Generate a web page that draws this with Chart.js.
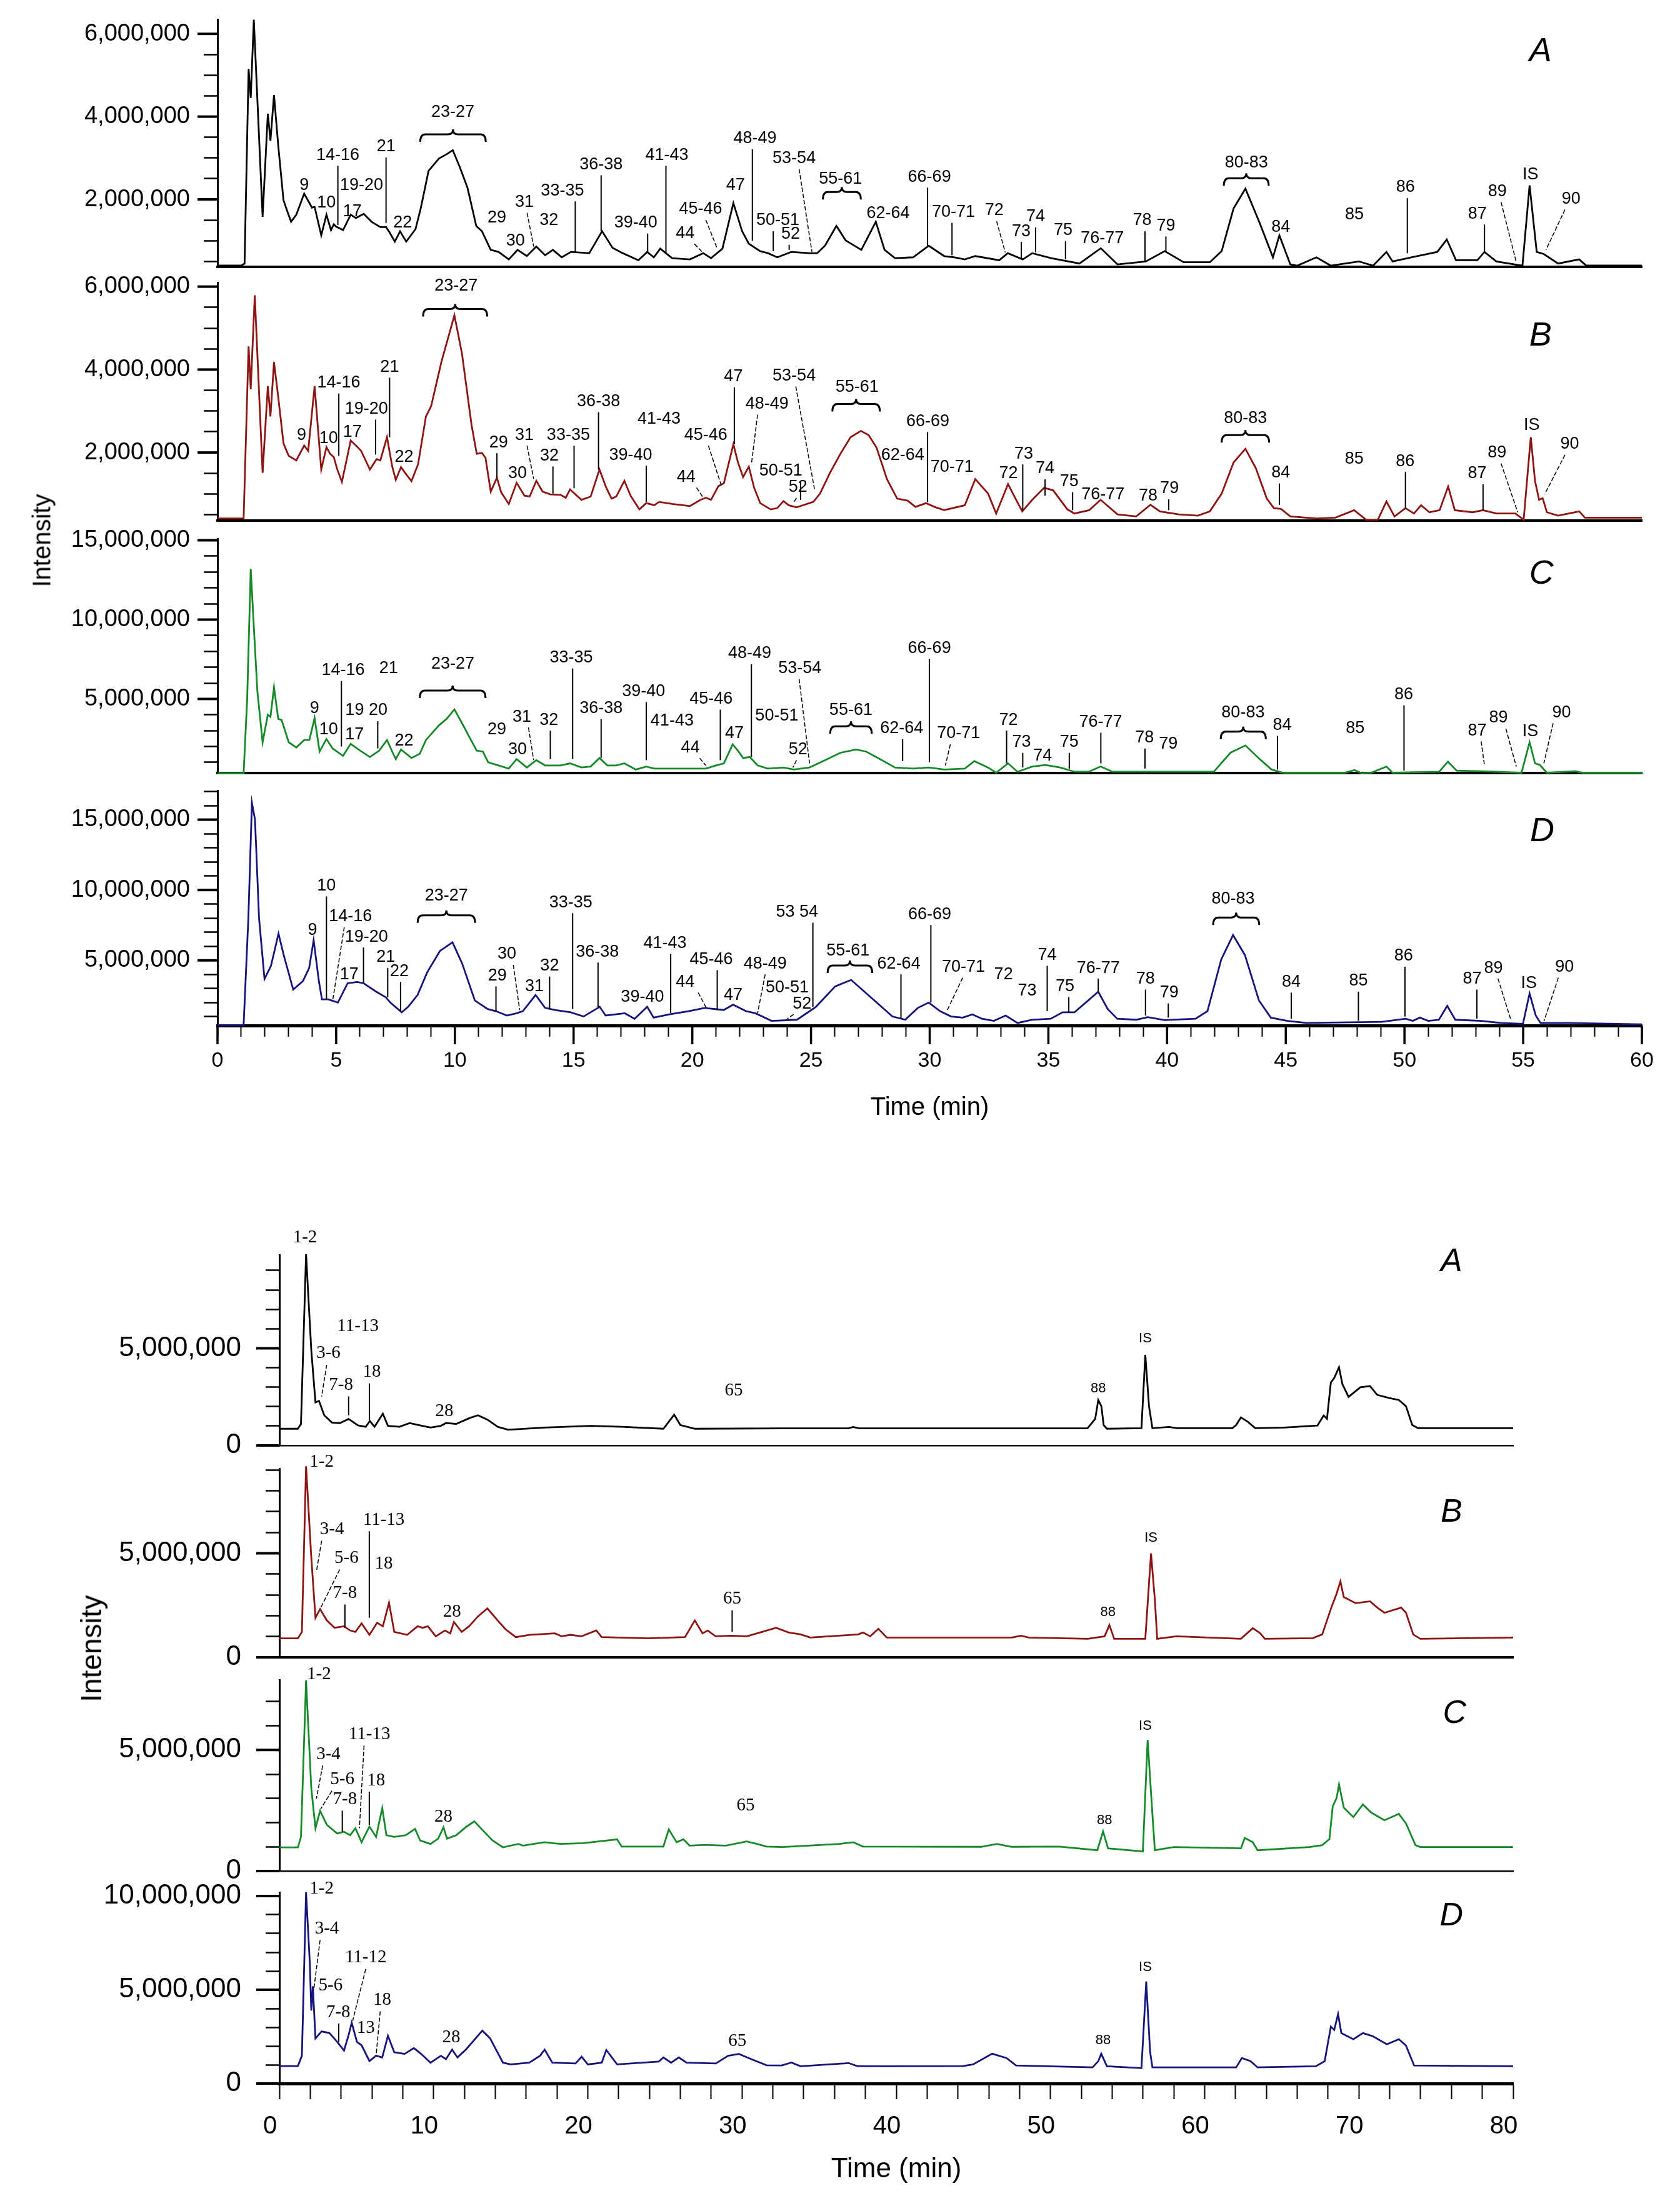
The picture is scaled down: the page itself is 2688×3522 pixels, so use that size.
<!DOCTYPE html>
<html><head><meta charset="utf-8">
<script src="https://cdn.jsdelivr.net/npm/chart.js@4.4.1/dist/chart.umd.min.js"></script>
<style>
html,body{margin:0;padding:0;background:#fff;}
body{width:2688px;height:3522px;position:relative;overflow:hidden;}
canvas{position:absolute;left:0;}
.ytitle{position:absolute;transform:translate(-50%,-50%) rotate(-90deg);font-family:"Liberation Sans",Arial,sans-serif;color:#000;white-space:nowrap;}
</style></head><body>
<canvas id="tA"></canvas><canvas id="tB"></canvas><canvas id="tC"></canvas><canvas id="tD"></canvas>
<canvas id="bA"></canvas><canvas id="bB"></canvas><canvas id="bC"></canvas><canvas id="bD"></canvas>
<div class="ytitle" style="left:67px;top:865px;font-size:40px;">Intensity</div>
<div class="ytitle" style="left:146px;top:2638px;font-size:46px;">Intensity</div>
<script>
// ---------------- DATA (times in min, intensities in millions) ----------------
const topXLabels = [0,5,10,15,20,25,30,35,40,45,50,55,60];
const bottomXLabels = [0,10,20,30,40,50,60,70,80];
const topABYLabels = [2,4,6];
const topCDYLabels = [5,10,15];
const bottomYLabels = [0,5,10];

// ---- Top figure, trace A ----
const topA_time = [0,1.0,1.14,1.31,1.40,1.53,1.90,2.12,2.23,2.38,2.56,2.78,2.93,3.10,3.32,3.65,3.98,4.09,4.37,4.59,4.78,4.90,5.00,5.29,5.61,5.83,6.16,6.49,6.86,7.10,7.25,7.47,7.69,7.95,8.34,8.56,8.89,9.33,9.65,9.91,10.2,10.53,10.9,11.14,11.51,11.84,12.27,12.64,13.03,13.43,13.8,14.13,14.5,14.89,15.66,16.2,16.64,17.07,17.73,18.1,18.38,18.65,19.15,19.9,20.46,20.79,21.27,21.73,22.1,22.38,22.86,23.19,23.58,24.17,24.94,25.26,25.59,26.07,26.46,27.12,27.73,28.1,28.54,29.3,29.96,30.61,31.05,31.48,31.92,32.93,33.29,33.92,34.32,35.12,36.31,37.21,37.91,39.1,39.9,40.7,41.8,42.3,42.8,43.3,43.9,44.46,44.73,45.19,45.49,46.29,46.89,48.08,48.68,49.24,49.5,50.28,51.38,51.78,52.17,53.07,53.37,53.87,54.97,55.27,55.57,55.87,56.47,57.36,57.66,60];
const topA_int = [0.40,0.40,0.45,5.15,4.45,6.34,1.58,4.07,3.42,4.52,3.29,1.98,1.73,1.46,1.63,2.14,1.80,1.82,1.13,1.63,1.26,1.40,1.34,1.26,1.63,1.55,1.65,1.46,1.33,1.33,1.20,0.98,1.23,0.98,1.28,1.78,2.69,2.99,3.09,3.19,2.79,2.28,1.36,1.23,0.78,0.73,0.55,0.78,0.63,0.86,0.65,0.78,0.60,0.73,0.70,1.23,0.83,0.70,0.53,0.73,0.60,0.81,0.58,0.55,0.70,0.58,0.81,1.91,1.23,0.93,0.75,0.70,0.60,0.73,0.70,0.70,0.88,1.36,1.01,0.78,1.46,0.78,0.58,0.60,0.88,0.63,0.60,0.55,0.63,0.53,0.70,0.55,0.70,0.58,0.45,0.82,0.43,0.50,0.75,0.48,0.48,0.75,1.78,2.26,1.43,0.60,1.13,0.43,0.40,0.60,0.40,0.50,0.40,0.73,0.50,0.60,0.73,1.03,0.53,0.53,0.73,0.50,0.40,2.34,0.73,0.68,0.45,0.55,0.40,0.40];

// ---- Top figure, trace B ----
const topB_time = [0,1.1,1.31,1.40,1.57,1.90,2.12,2.23,2.38,2.56,2.78,3.0,3.32,3.65,3.82,4.09,4.37,4.59,4.74,4.9,5.03,5.24,5.61,5.83,6.05,6.42,6.7,6.86,7.14,7.36,7.51,7.73,7.9,8.17,8.45,8.78,9.0,9.43,9.98,10.3,10.7,10.92,11.14,11.29,11.51,11.77,11.95,12.27,12.6,12.93,13.15,13.43,13.69,14.02,14.45,14.67,14.85,15.33,15.72,16.09,16.37,16.6,16.8,17.14,17.4,17.77,18.06,18.4,18.6,19.15,19.6,19.9,20.35,20.57,20.79,21.1,21.33,21.5,21.73,21.92,22.14,22.38,22.6,22.86,23.3,23.58,23.84,24.06,24.39,25.1,25.38,25.8,26.24,26.67,27.1,27.43,27.76,28.2,28.63,29.07,29.4,29.85,30.2,30.61,31.48,31.92,32.46,32.8,33.3,33.55,33.9,34.32,34.82,35.2,35.8,36.1,36.72,37.2,37.91,38.7,39.3,39.7,40.5,41.3,41.8,42.3,42.8,43.3,43.74,44.2,44.5,44.8,45.19,46.29,47.09,47.88,48.38,48.88,49.24,49.58,50.04,50.4,50.7,51.05,51.48,51.84,52.12,52.87,53.31,53.87,54.67,55.02,55.32,55.5,55.67,55.82,56.0,56.47,57.36,57.6,60];
const topB_int = [0.41,0.41,4.56,3.53,5.79,1.51,3.60,2.87,4.18,3.33,2.22,1.92,1.81,2.17,2.04,3.60,1.59,2.13,1.97,1.89,1.62,1.29,2.29,2.17,2.04,1.59,1.84,1.81,2.37,1.66,1.34,1.65,1.51,1.31,1.72,2.87,3.12,4.18,5.31,4.38,2.67,1.97,1.99,1.87,1.06,1.39,1.04,0.76,1.27,0.96,0.94,1.32,1.06,0.99,0.98,0.91,1.11,0.86,0.94,1.59,1.16,0.89,0.94,1.32,0.96,0.63,0.78,0.73,0.81,0.76,0.73,0.71,0.86,0.91,0.86,1.19,1.26,1.66,2.20,1.77,1.41,1.66,1.16,0.78,0.63,0.66,0.83,0.73,0.68,0.81,1.01,1.51,1.97,2.37,2.52,2.42,2.12,1.36,0.89,0.84,0.69,0.78,0.69,0.61,0.73,1.36,1.01,0.53,1.24,0.96,0.58,0.86,1.15,1.09,0.63,0.53,0.61,0.86,0.51,0.46,0.74,0.58,0.51,0.48,0.58,1.01,1.76,2.09,1.62,0.89,0.66,0.64,0.46,0.41,0.43,0.61,0.38,0.38,0.82,0.46,0.66,0.53,0.73,0.56,0.61,1.18,0.61,0.56,0.61,0.53,0.53,0.38,2.37,1.31,0.86,0.90,0.56,0.48,0.58,0.43,0.43];

// ---- Top figure, trace C ----
const topC_time = [0,1.1,1.25,1.40,1.55,1.68,1.90,2.12,2.23,2.38,2.56,2.7,3.0,3.32,3.65,3.87,4.09,4.3,4.59,4.85,5.29,5.61,5.94,6.42,6.81,7.14,7.36,7.51,7.73,8.17,8.52,8.78,9.33,9.65,9.98,10.3,10.63,10.92,11.18,11.4,11.84,12.27,12.6,13.03,13.43,13.8,14.45,14.85,15.33,15.72,16.09,16.42,16.8,17.14,17.62,18.06,18.4,19.7,20.57,21.0,21.33,21.7,21.92,22.14,22.42,22.75,23.19,23.84,24.28,24.94,25.59,26.24,26.9,27.33,27.99,28.54,29.3,29.96,30.61,31.48,31.88,32.46,32.8,33.3,33.7,34.32,34.88,35.5,36.1,36.7,37.2,37.7,39.3,41.97,42.67,43.3,43.9,44.4,44.89,47.48,47.9,48.2,48.6,49.24,49.5,51.46,51.83,52.2,53.24,54.93,55.27,55.5,55.7,56.0,57.2,57.5,60];
const topC_int = [0.31,0.31,5.0,13.2,9.0,5.47,2.27,4.0,3.87,5.73,3.74,3.67,2.27,1.94,2.41,2.41,3.80,1.68,2.47,1.88,1.41,2.17,1.81,1.34,1.74,2.41,1.68,1.21,1.81,1.28,1.54,2.41,3.34,3.74,4.34,3.47,2.54,1.74,1.68,1.01,0.81,0.61,1.21,0.68,1.14,0.81,0.81,0.94,0.68,0.74,1.28,0.81,0.81,0.94,0.55,0.74,0.61,0.61,0.61,0.81,0.94,2.14,1.74,1.28,1.34,0.81,0.61,0.68,0.55,0.68,1.14,1.61,1.81,1.68,1.14,0.68,0.61,0.68,0.55,0.61,1.08,0.68,0.35,0.94,0.41,0.74,0.84,0.68,0.41,0.41,0.74,0.41,0.41,0.41,1.61,2.07,1.21,0.55,0.35,0.35,0.52,0.31,0.35,0.74,0.35,0.41,1.05,0.48,0.44,0.35,2.27,0.94,0.84,0.35,0.44,0.35,0.35];

// ---- Top figure, trace D ----
const topD_time = [0,1.1,1.3,1.45,1.58,1.75,1.98,2.25,2.57,2.79,3.19,3.6,3.86,4.05,4.27,4.4,4.67,5.07,5.48,5.88,6.15,6.69,7.09,7.28,7.76,8.03,8.43,8.83,9.37,9.9,10.31,10.84,11.38,11.73,12.19,12.6,12.86,13.08,13.4,13.8,14.21,14.88,15.42,16.1,16.35,17.16,17.57,18.1,18.37,19.04,19.84,20.52,21.32,21.72,22.26,22.66,23.34,24.41,25.21,26.02,26.69,27.36,28.43,28.97,29.5,29.96,30.44,30.9,31.39,31.8,32.2,32.7,33.2,33.7,34.3,35.1,35.6,36.1,37.1,37.5,37.9,38.7,39.19,39.9,41.2,41.7,42.28,42.78,43.28,43.87,44.37,45.07,45.87,49.05,50.05,50.35,50.65,51.0,51.45,51.8,52.14,53.24,54.04,54.99,55.27,55.53,55.73,56.9,60];
const topD_int = [0.40,0.40,8.0,16.2,15.0,8.0,3.68,4.6,6.9,5.37,2.92,3.53,4.45,6.44,3.53,2.23,2.23,2.0,3.37,3.46,3.38,2.77,2.38,2.0,1.31,1.70,2.54,4.14,5.67,6.28,4.76,2.15,1.54,1.39,1.08,1.24,1.39,1.85,2.54,1.62,1.47,1.31,1.01,1.70,1.08,1.24,0.85,1.70,0.93,1.16,1.39,1.62,1.47,1.85,1.39,1.24,0.70,0.78,1.70,3.15,3.61,2.61,1.01,0.78,1.62,2.0,1.39,1.01,0.93,1.16,0.85,0.70,1.08,0.55,0.78,0.85,1.31,1.31,2.77,1.54,0.85,0.78,0.96,0.75,0.85,1.39,5.06,6.8,5.37,2.15,0.93,0.70,0.55,0.63,0.85,0.70,0.93,0.70,0.78,1.77,0.78,0.70,0.55,0.48,2.64,1.08,0.55,0.55,0.45];

// ---- Bottom figure traces ----
const botA_time = [0,1.2,1.4,1.73,2.07,2.34,2.57,2.91,3.41,3.92,4.49,5.1,5.6,5.87,6.17,6.71,7.04,7.78,8.45,9.12,9.8,10.47,10.8,11.47,12.31,12.88,13.49,14.16,14.83,17.19,20.2,22.2,24.9,25.6,26.0,26.94,32.6,36.9,37.2,37.6,52.4,52.9,53.1,53.3,53.45,53.66,55.9,56.15,56.39,56.61,57.7,58.2,61.8,62.04,62.35,62.81,63.28,65.14,67.31,67.72,67.93,68.18,68.4,68.71,68.93,69.33,70.1,70.72,71.19,71.97,72.59,73.05,73.46,73.83,80];
const botA_int = [0.86,0.86,1.11,9.84,4.88,2.22,2.29,1.55,1.18,1.15,1.36,1.03,0.96,1.26,0.96,1.63,1.01,0.96,1.15,1.03,0.92,1.01,1.15,1.11,1.40,1.55,1.33,0.96,0.81,0.92,1.01,0.96,0.86,1.58,1.05,0.86,0.88,0.88,0.95,0.88,0.88,1.37,2.34,2.02,1.05,0.86,0.89,4.66,2.02,0.89,0.95,0.89,0.89,1.05,1.44,1.21,0.89,0.92,1.02,1.54,1.37,3.24,3.47,4.02,3.15,2.50,2.99,3.05,2.60,2.44,2.34,2.02,1.05,0.89,0.89];

const botB_time = [0,1.2,1.46,1.73,2.07,2.34,2.64,3.08,3.58,4.19,4.59,4.93,5.33,5.84,6.34,6.71,7.11,7.45,8.29,8.96,9.3,9.63,10.14,10.74,11.08,11.32,11.82,12.3,12.88,13.49,14.16,14.66,15.33,16.2,17.86,18.3,18.87,19.6,20.55,20.9,23.9,26.3,26.94,27.44,27.78,28.28,29.29,30.3,31.3,32.2,33.0,33.81,34.43,37.53,37.84,38.31,38.84,39.39,47.5,48.08,48.6,52.42,53.51,53.82,54.13,56.15,56.52,56.77,56.92,58.16,62.35,63.12,63.59,63.9,67.0,67.62,68.24,68.55,68.8,69.02,69.79,70.72,71.19,71.66,72.74,73.05,73.52,73.98,80];
const botB_int = [0.91,0.91,1.22,9.18,4.8,1.9,2.32,1.77,1.42,1.49,1.29,1.22,1.63,1.08,1.66,1.49,2.62,1.22,1.08,1.49,1.42,1.49,1.01,1.29,1.15,1.7,1.22,1.49,1.97,2.35,1.77,1.35,0.97,1.08,1.15,1.01,1.08,1.01,1.29,0.97,0.91,0.97,1.77,1.15,1.29,1.01,1.04,1.01,1.22,1.42,1.2,1.1,0.95,1.1,1.19,1.01,1.37,0.95,0.95,1.04,0.95,0.89,1.01,1.55,0.89,0.89,5.0,2.75,0.89,1.01,0.89,1.4,1.16,0.89,0.92,1.1,2.45,3.05,3.65,2.9,2.6,2.69,2.39,2.14,2.39,2.15,1.1,0.89,0.95];

const botC_time = [0,1.2,1.4,1.73,2.07,2.34,2.64,3.08,3.75,4.19,4.59,4.93,5.33,5.84,6.27,6.67,6.94,7.45,8.19,8.8,9.13,9.8,10.3,10.64,10.87,11.47,12.14,12.65,13.16,13.83,14.5,15.5,15.8,17.19,18.2,19.7,21.9,22.2,24.9,25.25,25.76,26.2,26.6,27.6,28.95,30.3,30.97,31.6,32.6,36.3,37.22,37.84,45.5,46.53,47.5,50.56,53.04,53.41,53.73,55.99,56.3,56.61,56.77,58.01,62.35,62.6,63.12,63.43,66.8,67.62,68.09,68.3,68.55,68.71,69.02,69.64,70.26,70.79,71.66,72.59,73.05,73.67,73.98,80];
const botC_int = [0.98,0.98,1.41,7.88,3.42,1.77,2.49,1.91,1.55,1.62,1.48,1.77,1.19,1.84,1.41,2.6,1.48,1.41,1.48,1.74,1.26,1.12,1.34,1.81,1.34,1.48,1.84,2.05,1.7,1.26,0.98,1.12,1.05,1.19,1.12,1.15,1.31,1.01,1.01,1.72,1.19,1.31,1.05,1.08,1.05,1.22,1.12,1.01,0.99,1.12,1.19,1.01,1.0,1.12,1.0,1.01,0.86,1.64,0.94,0.81,5.42,2.36,0.86,0.99,0.94,1.37,1.19,0.86,0.99,1.07,1.32,2.67,3.01,3.58,2.62,2.23,2.75,2.42,2.1,2.36,1.97,1.07,0.99,0.99];

const botD_time = [0,1.2,1.46,1.73,1.97,2.07,2.17,2.34,2.74,3.25,3.75,4.19,4.49,4.69,5.03,5.33,5.84,6.27,6.67,7.04,7.45,8.12,8.72,9.19,9.8,10.47,10.8,11.2,11.55,12.14,13.16,13.66,14.5,15.0,16.2,16.9,17.2,17.7,19.2,19.6,20.0,20.9,21.2,21.9,24.6,24.9,25.4,25.9,26.4,28.3,29.1,29.8,30.6,31.6,32.57,33.19,33.8,36.91,37.5,44.3,44.98,46.22,47.15,47.77,52.73,53.1,53.29,53.66,55.9,56.21,56.46,56.61,62.04,62.41,62.97,63.43,67.2,67.78,68.18,68.4,68.65,68.86,69.64,70.26,70.88,71.81,72.59,73.05,73.58,80];
const botD_int = [0.93,0.93,1.48,10.2,6.49,3.89,5.19,2.41,2.78,2.69,2.22,1.76,2.59,3.24,2.22,2.04,1.2,1.48,1.39,2.55,1.67,1.58,1.89,1.58,1.11,1.48,1.3,1.81,1.39,1.85,2.82,2.41,1.11,1.02,1.11,1.48,1.81,1.11,1.07,1.43,1.02,1.11,1.79,1.02,1.17,1.39,1.11,1.39,1.11,1.07,1.48,1.58,1.3,0.97,0.96,1.12,0.92,1.09,0.92,0.93,1.02,1.59,1.36,0.96,0.86,1.19,1.59,0.92,0.82,5.44,1.69,0.86,0.86,1.36,1.19,0.86,0.92,1.19,3.03,2.86,3.7,2.69,2.36,2.69,2.53,2.09,2.36,2.03,0.96,0.92];

// ---- Peak labels: [text, time, intensity, lineStartTime, lineEndTime, lineEndIntensity] ----
const topA_peaks = [["9",3.65,2.34],["10",4.59,1.91],["14-16",5.07,3.07,5.07,5.07,1.38],["19-20",6.07,2.34],["17",5.68,1.71],["21",7.10,3.27,7.10,7.10,1.43],["22",7.80,1.43],["23-27",9.91,4.10],["29",11.77,1.56],["30",12.55,1.0],["31",12.93,1.93,13.04,13.32,0.86],["32",13.96,1.49],["33-35",14.53,2.21,15.07,15.07,0.73],["36-38",16.16,2.84,16.16,16.16,1.23],["39-40",17.62,1.43,18.12,18.12,0.73],["41-43",18.93,3.07,18.89,18.89,0.70],["44",19.7,1.18,20.09,20.42,0.73],["45-46",20.35,1.76,20.57,21.05,0.81],["47",21.82,2.34],["48-49",22.64,3.47,22.53,22.53,1.0],["50-51",23.6,1.49,23.41,23.41,0.75],["52",24.14,1.16,24.08,24.08,0.78],["53-54",24.29,2.99,24.5,25.04,0.73],["55-61",26.24,2.49],["62-64",28.25,1.66],["66-69",29.99,2.54,29.91,29.91,0.88],["70-71",31.0,1.69,30.94,30.94,0.65],["72",32.72,1.73,32.82,33.18,0.72],["73",33.86,1.23,33.86,33.86,0.58],["74",34.46,1.58,34.46,34.46,0.72],["75",35.62,1.25,35.72,35.72,0.55],["76-77",37.27,1.05],["78",38.95,1.49,39.07,39.07,0.50],["79",39.95,1.36,39.95,39.95,0.75],["80-83",43.34,2.89],["84",44.79,1.33],["85",47.89,1.63],["86",50.04,2.29,50.12,50.12,0.70],["87",53.07,1.65,53.37,53.37,0.73],["89",53.91,2.19,54.07,54.71,0.48],["IS",55.31,2.59],["90",57.02,2.01,56.76,55.96,0.78]];
const topA_braces = [[8.54,11.3,3.57],[25.5,27.1,2.18],[42.39,44.28,2.51]];

const topB_peaks = [["9",3.54,2.42],["10",4.68,2.34],["14-16",5.11,3.68,5.11,5.11,1.92],["17",5.68,2.49],["19-20",6.27,3.05,6.66,6.66,1.95],["21",7.25,4.06,7.25,7.25,2.37],["22",7.86,1.89],["23-27",10.05,6.02],["29",11.84,2.24,11.77,11.77,1.39],["30",12.64,1.49],["31",12.93,2.42,13.04,13.32,1.36],["32",13.98,1.92,14.13,14.13,1.01],["33-35",14.78,2.42,15.02,15.02,1.14],["36-38",16.05,3.23,16.05,16.05,1.59],["39-40",17.4,1.94,18.06,18.06,0.81],["41-43",18.6,2.8],["44",19.74,1.41,20.18,20.46,0.91],["45-46",20.57,2.42,20.68,21.22,1.21],["47",21.73,3.83,21.77,21.77,2.2],["48-49",23.15,3.17,22.75,22.49,1.72],["50-51",23.73,1.56,24.56,24.56,0.86],["52",24.45,1.16,24.39,24.28,0.81],["53-54",24.29,3.85,24.36,25.15,1.11],["55-61",26.94,3.58],["62-64",28.86,1.93],["66-69",29.92,2.75,29.91,29.91,0.81],["70-71",30.94,1.64],["72",33.32,1.49],["73",33.96,1.97,33.92,33.92,0.61],["74",34.86,1.61,34.86,34.86,0.96],["75",35.88,1.3,36.02,36.02,0.61],["76-77",37.3,0.99],["78",39.2,0.96],["79",40.1,1.13,40.07,40.07,0.61],["80-83",43.3,2.82],["84",44.79,1.51,44.73,44.73,0.74],["85",47.88,1.85],["86",50.03,1.79,50.04,50.04,0.66],["87",53.06,1.49,53.31,53.31,0.61],["89",53.9,1.99,54.07,54.77,0.56],["IS",55.36,2.65],["90",56.96,2.2,56.76,55.91,1.0]];
const topB_braces = [[8.66,11.36,5.46],[25.9,27.9,3.17],[42.3,44.3,2.42]];

const topC_peaks = [["9",4.09,4.4],["10",4.68,3.07],["14-16",5.29,6.8,5.22,5.22,2.0],["21",7.21,6.93],["19 20",6.27,4.27,6.75,6.75,1.88],["17",5.77,2.74],["22",7.86,2.34],["23-27",9.91,7.19],["29",11.77,3.07],["30",12.64,1.81],["31",12.82,3.87,13.1,13.32,1.14],["32",13.96,3.67,14.02,14.02,1.21],["33-35",14.9,7.59,14.96,14.96,1.21],["36-38",16.16,4.4,16.16,16.16,1.28],["39-40",17.95,5.47,18.06,18.06,1.14],["41-43",19.15,3.6],["44",19.92,1.94,20.31,20.57,0.81],["45-46",20.79,5.0,21.18,21.18,1.14],["47",21.77,2.81],["48-49",22.42,7.86,22.49,22.49,1.34],["50-51",23.56,3.94],["52",24.45,1.81,24.39,24.24,0.68],["53-54",24.53,6.93,24.5,24.94,0.94],["55-61",26.68,4.27],["62-64",28.82,3.14,28.86,28.86,1.08],["66-69",29.99,8.19,29.99,29.99,1.01],["70-71",31.22,2.81,30.87,30.66,0.81],["72",33.32,3.67,33.24,33.24,0.94],["73",33.87,2.27,33.92,33.92,0.68],["74",34.76,1.41],["75",35.88,2.27,35.88,35.88,0.61],["76-77",37.2,3.54,37.21,37.21,0.94],["78",39.05,2.54,39.07,39.07,0.61],["79",40.05,2.14],["80-83",43.2,4.14],["84",44.85,3.34,44.65,44.65,0.55],["85",47.92,3.14],["86",49.97,5.27,49.98,49.98,0.48],["87",53.06,3.0,53.23,53.37,0.81],["89",53.96,3.8,54.27,54.71,0.74],["IS",55.3,2.94],["90",56.62,4.14,56.26,55.87,0.94]];
const topC_braces = [[8.52,11.29,5.53],[25.81,27.56,3.27],[42.26,44.16,2.94]];

const topD_peaks = [["9",4.0,7.12],["10",4.59,10.3,4.59,4.59,2.23],["14-16",5.6,8.12,5.34,4.86,2.23],["19-20",6.27,6.67,6.15,6.15,3.38],["17",5.55,4.0],["21",7.09,5.21,7.17,7.17,2.38],["22",7.66,4.22,7.71,7.71,1.39],["23-27",9.64,9.57],["29",11.79,3.91,11.73,11.73,1.39],["30",12.19,5.44,12.46,12.73,1.47],["31",13.35,3.15],["32",13.99,4.6,13.99,13.99,1.54],["33-35",14.88,9.11,14.96,14.96,1.54],["36-38",16.0,5.6,16.03,16.03,1.70],["39-40",17.9,2.38],["41-43",18.85,6.2,19.09,19.09,1.24],["44",19.7,3.46,20.25,20.59,1.62],["45-46",20.8,5.06,21.05,21.05,1.47],["47",21.72,2.54],["48-49",23.07,4.76,23.07,22.75,1.24],["50-51",24.0,3.07],["52",24.62,1.92,24.27,24.0,0.85],["53 54",24.41,8.43,25.08,25.08,1.70],["55-61",26.56,5.67],["62-64",28.7,4.76,28.79,28.79,0.85],["66-69",30.0,8.27,30.05,30.05,2.0],["70-71",31.42,4.52,31.39,30.72,1.39],["72",33.11,3.99],["73",34.11,2.84],["74",34.95,5.37,34.95,34.95,1.39],["75",35.7,3.15,35.86,35.86,1.31],["76-77",37.1,4.45,37.1,37.1,2.77],["78",39.09,3.68,39.09,39.09,1.08],["79",40.09,2.69,40.05,40.05,0.93],["80-83",42.78,9.34],["84",45.23,3.46,45.23,45.23,0.85],["85",48.06,3.53,48.06,48.06,0.70],["86",49.96,5.3,50.02,50.02,1.01],["87",52.85,3.68,53.05,53.05,0.85],["89",53.75,4.45,53.94,54.48,0.78],["IS",55.24,3.38],["90",56.74,4.52,56.48,55.88,0.70]];
const topD_braces = [[8.43,10.85,8.2],[25.7,27.58,4.63],[41.94,43.88,8.04]];

const botA_peaks = [["1-2",1.66,10.68],["11-13",5.09,6.14],["3-6",3.18,4.73,3.07,2.74,2.52],["7-8",4.0,3.1,4.49,4.49,1.55],["18",6.0,3.77,5.84,5.84,1.3],["28",10.7,1.74],["65",29.46,2.8],["88",53.1,2.92],["IS",56.15,5.5]];
const botB_peaks = [["1-2",2.74,9.38],["3-4",3.41,6.14,2.74,2.4,4.11],["11-13",6.77,6.6,5.83,5.83,1.9],["5-6",4.35,4.76,3.91,2.64,2.32],["18",6.77,4.48],["7-8",4.25,3.08,4.25,4.25,1.42],["28",11.2,2.18],["65",29.36,2.8,29.36,29.36,1.22],["88",53.73,2.15],["IS",56.52,5.75]];
const botC_peaks = [["1-2",2.57,8.13],["11-13",5.84,5.65,5.49,5.19,1.77],["3-4",3.18,4.83,2.81,2.4,2.99],["5-6",4.08,3.78,3.41,2.67,2.56],["18",6.27,3.74,5.83,5.83,1.91],["7-8",4.25,2.96,4.08,4.08,1.62],["28",10.64,2.24],["65",30.23,2.7],["88",53.51,2.09],["IS",56.15,6.0]];
const botD_peaks = [["1-2",2.74,10.38],["3-4",3.08,8.25,2.64,2.23,5.0],["11-12",5.6,6.71,5.6,4.75,3.34],["5-6",3.32,5.23],["18",6.67,4.45,6.54,6.27,1.48],["7-8",3.82,3.8,3.85,3.85,2.22],["13",5.6,2.97],["28",11.14,2.45],["65",29.7,2.26],["88",53.41,2.3],["IS",56.15,6.2]];

// panel letters: [text, time, intensity]
const topLetters = [["A",55.73,5.56],["B",55.73,4.81],["C",55.77,12.85],["D",55.8,14.16]];
const botLetters = [["A",76.0,9.43],["B",76.0,6.95],["C",76.2,6.5],["D",76.0,8.9]];

// ---------------- RENDERING ----------------
const SANS = '"Liberation Sans", Arial, sans-serif';
const NARROW = '"Liberation Sans Narrow", "Liberation Sans", Arial, sans-serif';
const SERIF = '"Liberation Serif", "DejaVu Serif", serif';
const fmt = v => Math.round(v * 1e6).toLocaleString('en-US');
const has = (arr, v) => arr.some(a => Math.abs(a - v) < 1e-6);

function drawBrace(ctx, x1, x2, y) {
  const xm = (x1 + x2) / 2, h = 12, r = 8;
  ctx.beginPath();
  ctx.moveTo(x1, y + h);
  ctx.quadraticCurveTo(x1, y, x1 + r, y);
  ctx.lineTo(xm - r, y);
  ctx.quadraticCurveTo(xm, y, xm, y - r);
  ctx.quadraticCurveTo(xm, y, xm + r, y);
  ctx.lineTo(x2 - r, y);
  ctx.quadraticCurveTo(x2, y, x2, y + h);
  ctx.stroke();
}

const annotPlugin = {
  id: 'peakAnnot',
  afterDatasetsDraw(chart, args, o) {
    const { ctx } = chart; const x = chart.scales.x, y = chart.scales.y;
    ctx.save();
    ctx.fillStyle = '#000'; ctx.strokeStyle = '#000';
    ctx.textAlign = 'center'; ctx.textBaseline = 'middle';
    for (const L of o.peaks) {
      const px = x.getPixelForValue(L[1]), py = y.getPixelForValue(L[2]);
      const small = o.smallFont && (L[0] === 'IS' || L[0] === '88');
      ctx.font = small ? o.smallFont : o.font;
      ctx.fillText(L[0], px, py);
      if (L.length > 3) {
        const x1 = x.getPixelForValue(L[3]), y1 = py + o.gap;
        const x2 = x.getPixelForValue(L[4]), y2 = y.getPixelForValue(L[5]);
        const vertical = Math.abs(x1 - x2) < 1;
        ctx.lineWidth = vertical ? 2 : 1.5;
        ctx.setLineDash(vertical ? [] : [7, 3]);
        ctx.beginPath(); ctx.moveTo(x1, y1); ctx.lineTo(x2, y2); ctx.stroke();
      }
    }
    ctx.setLineDash([]);
    ctx.lineWidth = 3;
    for (const B of (o.braces || [])) {
      drawBrace(ctx, x.getPixelForValue(B[0]), x.getPixelForValue(B[1]), y.getPixelForValue(B[2]));
    }
    if (o.letter) {
      ctx.font = o.letterFont;
      ctx.fillText(o.letter[0], x.getPixelForValue(o.letter[1]), y.getPixelForValue(o.letter[2]));
    }
    ctx.restore();
  }
};

const longTickPlugin = {
  id: 'longTicks',
  afterDraw(chart, args, o) {
    if (!o || !o.items) return;
    const ctx = chart.ctx; ctx.save(); ctx.strokeStyle = '#000';
    for (const it of o.items) {
      const s = chart.scales[it.axis];
      ctx.lineWidth = it.width;
      for (const v of it.values) {
        if (v < s.min - 1e-9 || v > s.max + 1e-9) continue;
        const p = s.getPixelForValue(v);
        ctx.beginPath();
        if (it.axis === 'y') { ctx.moveTo(s.right, p); ctx.lineTo(s.right - it.len, p); }
        else { ctx.moveTo(p, s.top); ctx.lineTo(p, s.top + it.len); }
        ctx.stroke();
      }
    }
    ctx.restore();
  }
};

function buildPanel(id, P) {
  const el = document.getElementById(id);
  const H = Math.round(P.padTop + (P.bottom - P.top) + P.xH + P.padBottom);
  el.width = 2688; el.height = H;
  el.style.width = '2688px'; el.style.height = H + 'px';
  el.style.top = Math.round(P.top - P.padTop) + 'px';
  const pts = P.time.map((t, i) => ({ x: t, y: P.int[i] }));
  const xScale = {
    type: 'linear', min: P.xMin, max: P.xMax,
    afterFit: s => { s.height = P.xH; },
    border: { display: true, color: '#000', width: P.xBorder },
    grid: { display: true, drawOnChartArea: false, drawTicks: P.xTicks, tickLength: P.xTickLen || 0, tickWidth: 2, tickColor: '#000', color: '#000' },
    ticks: {
      display: P.xTicks, stepSize: P.xStep, autoSkip: false, maxRotation: 0, minRotation: 0,
      includeBounds: false, padding: P.xTickPad || 0, color: '#000', labelOffset: P.xLabelOffset || 0,
      font: { family: SANS, size: P.xFontSize || 34 },
      callback: v => has(P.xLabels || [], v) ? String(v) : ''
    },
    title: P.xTitle ? { display: true, text: 'Time (min)', color: '#000', font: { family: SANS, size: P.xTitleSize }, padding: { top: 0, bottom: 0 } } : { display: false }
  };
  const yScale = {
    type: 'linear', min: P.yMin, max: P.yMax,
    afterFit: s => { s.width = P.left; },
    border: { display: true, color: '#000', width: 3 },
    grid: { display: true, drawOnChartArea: false, drawTicks: true, tickLength: 22, tickWidth: 2.5, tickColor: '#000', color: '#000' },
    ticks: {
      stepSize: P.yStep, autoSkip: false, includeBounds: false, padding: P.yTickPad, color: '#000',
      font: { family: SANS, size: P.yFontSize },
      callback: v => has(P.yLabels, v) ? fmt(v) : ''
    }
  };
  const longItems = [{ axis: 'y', values: P.yLabels, len: P.yLongLen, width: 4 }];
  if (P.xLong) longItems.push({ axis: 'x', values: P.xLabels, len: 30, width: 3.5 });
  return new Chart(el, {
    type: 'line',
    data: { datasets: [{ data: pts, borderColor: P.color, borderWidth: 2.8, pointRadius: 0, tension: 0, fill: false, clip: 12 }] },
    options: {
      responsive: false, animation: false, devicePixelRatio: 1,
      layout: { autoPadding: false, padding: { top: P.padTop, bottom: P.padBottom, left: 0, right: P.rightPad } },
      scales: { x: xScale, y: yScale },
      plugins: {
        legend: { display: false }, tooltip: { enabled: false },
        peakAnnot: { peaks: P.peaks, braces: P.braces, gap: P.gap, font: P.font, smallFont: P.smallFont, letter: P.letter, letterFont: P.letterFont },
        longTicks: { items: longItems }
      }
    },
    plugins: [annotPlugin, longTickPlugin]
  });
}

// padTop / padBottom exceed the y tick-label overhang (label half height + tick padding), so the plot area is exact
const TOP = { left: 348, rightPad: 61, xMin: 0, xMax: 60, xStep: 1, xLabels: topXLabels, yTickPad: 22, yFontSize: 38, yLongLen: 32,
  gap: 17, font: '27px ' + NARROW, letterFont: 'italic 54px ' + SANS, padTop: 80, padBottom: 80 };
const BOT = { left: 447, rightPad: 267, xMin: 0, xMax: 80, xStep: 2, xLabels: bottomXLabels, yTickPad: 39, yFontSize: 44, yLongLen: 37,
  gap: 18, font: '29px ' + SERIF, smallFont: '22px ' + SANS, letterFont: 'italic 52px ' + SANS, padTop: 80, padBottom: 80, yLabels: bottomYLabels, yStep: 1 };

const noX = { xH: 0, xTicks: false, xBorder: 4 };

buildPanel('tA', Object.assign({}, TOP, noX, { top: 31, bottom: 427, yMin: 0.37, yMax: 6.35, yStep: 0.5, yLabels: topABYLabels,
  color: '#000000', time: topA_time, int: topA_int, peaks: topA_peaks, braces: topA_braces, letter: topLetters[0] }));
buildPanel('tB', Object.assign({}, TOP, noX, { top: 452, bottom: 833, yMin: 0.36, yMax: 6.1, yStep: 0.5, yLabels: topABYLabels,
  color: '#8e1414', time: topB_time, int: topB_int, peaks: topB_peaks, braces: topB_braces, letter: topLetters[1] }));
buildPanel('tC', Object.assign({}, TOP, noX, { top: 862, bottom: 1237, yMin: 0.33, yMax: 15.1, yStep: 1, yLabels: topCDYLabels,
  color: '#168a2a', time: topC_time, int: topC_int, peaks: topC_peaks, braces: topC_braces, letter: topLetters[2] }));
buildPanel('tD', Object.assign({}, TOP, { top: 1265, bottom: 1641, padBottom: 10, yMin: 0.37, yMax: 17.07, yStep: 1, yLabels: topCDYLabels,
  xH: 156, xTicks: true, xBorder: 5, xTickLen: 18, xTickPad: 18, xFontSize: 34, xLong: true, xTitle: true, xTitleSize: 40,
  color: '#14147c', time: topD_time, int: topD_int, peaks: topD_peaks, braces: topD_braces, letter: topLetters[3] }));

buildPanel('bA', Object.assign({}, BOT, noX, { xBorder: 2.5, top: 2008, bottom: 2313, yMin: 0, yMax: 9.8,
  color: '#000000', time: botA_time, int: botA_int, peaks: botA_peaks, braces: [], letter: botLetters[0] }));
buildPanel('bB', Object.assign({}, BOT, noX, { xBorder: 4, top: 2350, bottom: 2652, yMin: 0, yMax: 9.07,
  color: '#8e1414', time: botB_time, int: botB_int, peaks: botB_peaks, braces: [], letter: botLetters[1] }));
buildPanel('bC', Object.assign({}, BOT, noX, { xBorder: 2.5, top: 2688, bottom: 2994, yMin: 0, yMax: 7.9,
  color: '#168a2a', time: botC_time, int: botC_int, peaks: botC_peaks, braces: [], letter: botLetters[2] }));
buildPanel('bD', Object.assign({}, BOT, { top: 3028, bottom: 3334, padBottom: 10, yMin: 0, yMax: 10.2,
  xH: 164, xTicks: true, xBorder: 5, xTickLen: 25, xTickPad: 20, xFontSize: 40, xLabelOffset: -15, xTitle: true, xTitleSize: 44,
  color: '#14147c', time: botD_time, int: botD_int, peaks: botD_peaks, braces: [], letter: botLetters[3] }));
</script>
</body></html>
